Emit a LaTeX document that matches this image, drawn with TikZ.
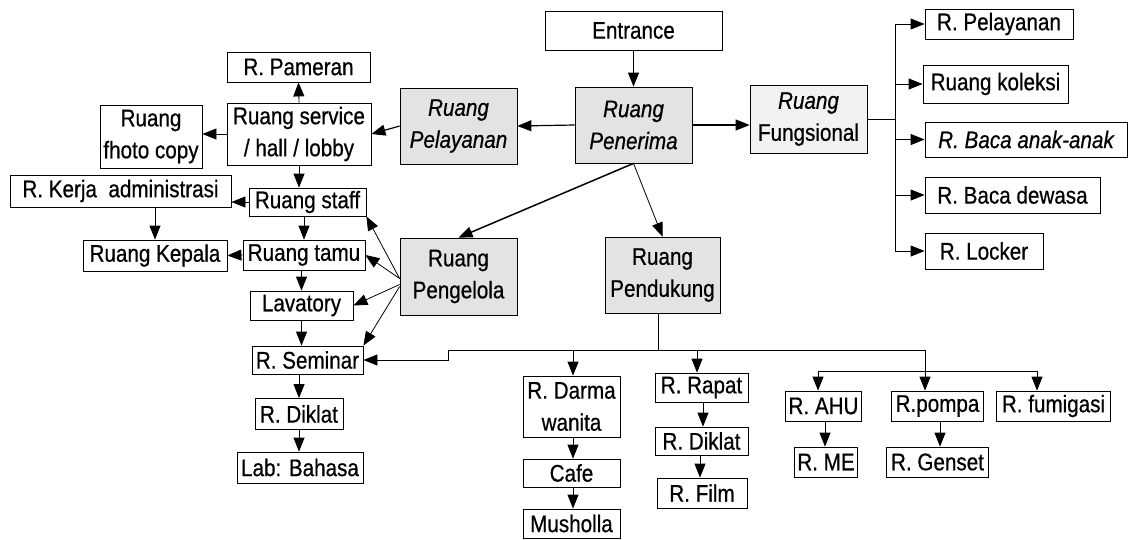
\documentclass[tikz,border=0pt]{standalone}
\usepackage{fontspec}
\setmainfont{Liberation Sans}[FakeStretch=0.86,FakeBold=0.6]
\usetikzlibrary{arrows.meta}
\begin{document}
\begin{tikzpicture}[x=1pt,y=-1pt,
  box/.style={draw, line width=0.8pt, inner sep=0pt, align=center, font=\fontsize{24}{32}\selectfont},
  shd/.style={box, fill=black!11},
  wh/.style 2 args={minimum width=#1pt, minimum height=#2pt},
  arr/.style={-{Triangle[length=14pt,width=11pt]}, line width=0.8pt},
  ln/.style={line width=0.8pt}]
\useasboundingbox[fill=white] (0,0) rectangle (1129,539);

% top / centre
\node[box, wh={177}{39}] (entr) at (633.5,30.5) {Entrance};
\node[shd, wh={117}{76}] (pen) at (633.5,125) {\itshape Ruang\\\itshape Penerima};
\node[shd, wh={117}{76}] (pel) at (458.5,126) {\itshape Ruang\\\itshape Pelayanan};
\node[box, fill=black!5, wh={117}{68}] (fun) at (808.5,119) {\itshape Ruang\\Fungsional};

% right list
\node[box, wh={148}{30}] (rpel) at (999,24) {R. Pelayanan};
\node[box, wh={145}{38}] (kol) at (995.5,84) {Ruang koleksi};
\node[box, wh={202}{35}] (anak) at (1026,139.5) {\itshape R. Baca anak-anak};
\node[box, wh={175}{36}] (dew) at (1012.5,195) {R. Baca dewasa};
\node[box, wh={118}{36}] (lock) at (984,251) {R. Locker};

% left column
\node[box, wh={143}{30}] (pam) at (298.5,67) {R. Pameran};
\node[box, wh={144}{62}] (svc) at (299,134) {Ruang service\\/ hall / lobby};
\node[box, wh={102}{63}] (foto) at (151,136.5) {Ruang\\fhoto copy};
\node[box, wh={221}{32}] (kerja) at (120.5,191) {R. Kerja~ administrasi};
\node[box, wh={117}{28}] (staff) at (307.5,202) {Ruang staff};
\node[box, wh={144}{31}] (kep) at (155,255.5) {Ruang Kepala};
\node[box, wh={122}{30}] (tamu) at (304,255) {Ruang tamu};
\node[box, wh={103}{29}] (lav) at (301.5,305.5) {Lavatory};
\node[box, wh={111}{28}] (sem) at (307.5,360) {R. Seminar};
\node[box, wh={88}{31}] (dika) at (299,414) {R. Diklat};
\node[box, wh={126}{31}] (lab) at (300,467.5) {Lab: Bahasa};

% middle
\node[shd, wh={117}{77}] (peng) at (458.5,276.5) {Ruang\\Pengelola};
\node[shd, wh={115}{76}] (pend) at (662.5,275) {Ruang\\Pendukung};

% bottom
\node[box, wh={97}{61}] (darma) at (571.5,406.5) {R. Darma\\wanita};
\node[box, wh={97}{28}] (cafe) at (571.5,473) {Cafe};
\node[box, wh={97}{29}] (mus) at (571.5,523.5) {Musholla};
\node[box, wh={93}{29}] (rapat) at (701.5,387.5) {R. Rapat};
\node[box, wh={93}{28}] (dikb) at (701.5,441) {R. Diklat};
\node[box, wh={90}{30}] (film) at (702,493) {R. Film};
\node[box, wh={76}{30}] (ahu) at (823.5,406) {R. AHU};
\node[box, wh={63}{30}] (me) at (826,462) {R. ME};
\node[box, wh={92}{30}] (pompa) at (937.5,406) {R.pompa};
\node[box, wh={102}{30}] (genset) at (937.5,462) {R. Genset};
\node[box, wh={114}{30}] (fumi) at (1053.5,406) {R. fumigasi};

% junction coordinates
\coordinate (trk) at (895,119);
\coordinate (j0) at (658,350);
\coordinate (jS) at (448,350);
\coordinate (jD) at (573,350);
\coordinate (jP) at (697,350);
\coordinate (jR) at (925,350);
\coordinate (jA) at (818,371);
\coordinate (jF) at (1037,371);

% centre connectors
\draw[arr] (entr.south) -- (pen.north);
\draw[arr, line width=1.2pt] (pen.west) -- (pel.east);
\draw[arr, line width=1.2pt] (pen.east) -- (pen.east -| fun.west);
\draw[arr, line width=1.2pt] (pel.west) -- (svc.east);
\draw[arr, line width=1.5pt] (pen.south) -- (peng.north);
\draw[arr] (pen.south) -- (pend.north);

% fungsional tree
\draw[ln] (fun.east) -- (trk);
\draw[ln] (trk |- rpel.west) -- (trk |- lock.west);
\draw[arr] (trk |- rpel.west) -- (rpel.west);
\draw[arr] (trk |- kol.west) -- (kol.west);
\draw[arr] (trk |- anak.west) -- (anak.west);
\draw[arr] (trk |- dew.west) -- (dew.west);
\draw[arr] (trk |- lock.west) -- (lock.west);

% left column connectors
\draw[arr] (svc.north) -- (pam.south);
\draw[arr] (svc.west) -- (svc.west -| foto.east);
\draw[arr] (svc.south) -- (svc.south |- staff.north);
\draw[arr] (staff.west) -- (staff.west -| kerja.east);
\draw[arr] (kep.north |- kerja.south) -- (kep.north);
\draw[arr] (tamu.north |- staff.south) -- (tamu.north);
\draw[arr] (tamu.west) -- (kep.east);
\draw[arr] (lav.north |- tamu.south) -- (lav.north);
\draw[arr] (lav.south) -- (lav.south |- sem.north);
\draw[arr] (dika.north |- sem.south) -- (dika.north);
\draw[arr] (dika.south) -- (dika.south |- lab.north);

% pengelola connectors
\draw[arr] ([yshift=-2pt]peng.west) -- (staff.south east);
\draw[arr] ([yshift=-2pt]peng.west) -- (tamu.east);
\draw[arr] ([yshift=-8pt]peng.west) -- (lav.east);
\draw[arr] ([yshift=-10pt]peng.west) -- (sem.north east);

% pendukung tree
\draw[ln] (pend.south -| j0) -- (j0);
\draw[arr] (jR) -- (jS) -- (jS |- sem.east) -- (sem.east);
\draw[arr] (jD) -- (jD |- darma.north);
\draw[arr] (jP) -- (jP |- rapat.north);
\draw[arr] (jR) -- (jR |- pompa.north);
\draw[ln] (jA) -- (jF);
\draw[arr] (jA) -- (jA |- ahu.north);
\draw[arr] (jF) -- (jF |- fumi.north);

% bottom chains
\draw[arr] (jD |- darma.south) -- (jD |- cafe.north);
\draw[arr] (jD |- cafe.south) -- (jD |- mus.north);
\draw[arr] ([xshift=1.5pt]rapat.south) -- ([xshift=1.5pt]rapat.south |- dikb.north);
\draw[arr] ([xshift=-1.5pt]dikb.south) -- ([xshift=-1.5pt]dikb.south |- film.north);
\draw[arr] ([xshift=1.5pt]ahu.south) -- ([xshift=1.5pt]ahu.south |- me.north);
\draw[arr] ([xshift=2.5pt]pompa.south) -- ([xshift=2.5pt]pompa.south |- genset.north);
\end{tikzpicture}
\end{document}
